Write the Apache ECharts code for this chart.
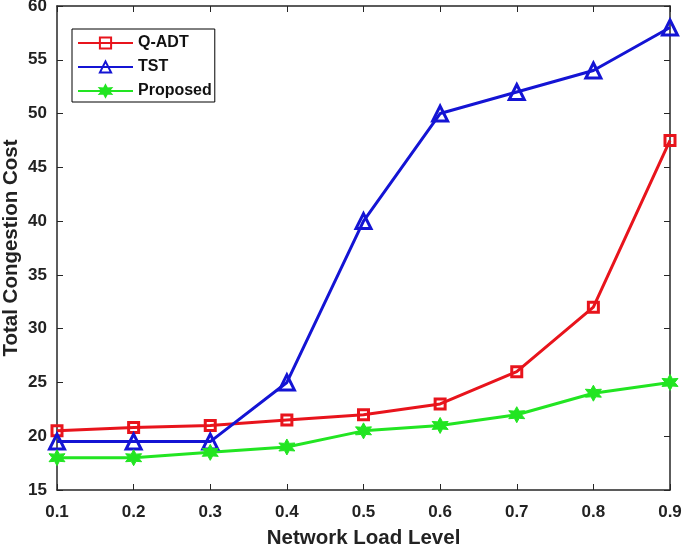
<!DOCTYPE html>
<html><head><meta charset="utf-8">
<script src="https://cdn.jsdelivr.net/npm/echarts@6/dist/echarts.min.js"></script>
<style>html,body{margin:0;padding:0;background:#fff}#c{width:685px;height:548px}</style>
</head><body><div id="c"></div>
<script>
const categories = ['0.1','0.2','0.3','0.4','0.5','0.6','0.7','0.8','0.9'];
const qadt = [20.5, 20.8, 21, 21.5, 22, 23, 26, 32, 47.5];
const tst = [19.5, 19.5, 19.5, 25, 40, 50, 52, 54, 58];
const proposed = [18, 18, 18.5, 19, 20.5, 21, 22, 24, 25];

const FONT = '"Liberation Sans", Arial, sans-serif';
const star = 'path://M0,-10 L2.6,-4.5 L8.66,-5 L5.2,0 L8.66,5 L2.6,4.5 L0,10 L-2.6,4.5 L-8.66,5 L-5.2,0 L-8.66,-5 L-2.6,-4.5 Z';
const RED = '#e8141c', BLUE = '#1414d4', GREEN = '#22e522';
const chart = echarts.init(document.getElementById('c'));
const axisLine = {show:true, lineStyle:{color:'#262626', width:1.5}};
chart.setOption({
  animation:false,
  backgroundColor:'#fff',
  grid:{left:57, right:15, top:6, bottom:58, outerBoundsMode:'none', containLabel:false},
  legend:{
    orient:'vertical', left:72, top:29, padding:[6,3,3,5],
    backgroundColor:'#fff', borderColor:'#000', borderWidth:1,
    itemWidth:55, itemHeight:14, itemGap:8,
    textStyle:{fontFamily:FONT, fontWeight:'bold', fontSize:16, color:'#111', padding:[0,0,0,0]},
    data:['Q-ADT','TST','Proposed']
  },
  xAxis:[{
    type:'category', data:categories, boundaryGap:false,
    name:'Network Load Level', nameLocation:'middle', nameGap:38, nameMoveOverlap:false,
    nameTextStyle:{fontFamily:FONT, fontWeight:'bold', fontSize:20.5, color:'#222'},
    axisLine, axisTick:{show:true, inside:true, length:6, lineStyle:{color:'#262626'}},
    axisLabel:{fontFamily:FONT, fontWeight:'bold', fontSize:17, color:'#222', margin:14},
    splitLine:{show:false}
  },{
    type:'category', data:categories, boundaryGap:false, position:'top',
    axisLine, axisTick:{show:true, inside:true, length:6, lineStyle:{color:'#262626'}},
    axisLabel:{show:false}, splitLine:{show:false}
  }],
  yAxis:[{
    type:'value', min:15, max:60, interval:5,
    name:'Total Congestion Cost', nameLocation:'middle', nameGap:35, nameMoveOverlap:false,
    nameTextStyle:{fontFamily:FONT, fontWeight:'bold', fontSize:20.5, color:'#222'},
    axisLine, axisTick:{show:true, inside:true, length:6, lineStyle:{color:'#262626'}},
    axisLabel:{fontFamily:FONT, fontWeight:'bold', fontSize:17, color:'#222', margin:10},
    splitLine:{show:false}
  },{
    type:'value', min:15, max:60, interval:5, position:'right',
    axisLine, axisTick:{show:true, inside:true, length:6, lineStyle:{color:'#262626'}},
    axisLabel:{show:false}, splitLine:{show:false}
  }],
  series:[
    {name:'Q-ADT', type:'line', data:qadt, color:RED,
     lineStyle:{width:3, color:RED}, symbol:'rect', symbolSize:10,
     itemStyle:{color:'rgba(255,255,255,0)', borderColor:RED, borderWidth:3}},
    {name:'TST', type:'line', data:tst, color:BLUE,
     lineStyle:{width:3, color:BLUE}, symbol:'triangle', symbolSize:15,
     itemStyle:{color:'rgba(255,255,255,0)', borderColor:BLUE, borderWidth:3}},
    {name:'Proposed', type:'line', data:proposed, color:GREEN,
     lineStyle:{width:3, color:GREEN}, symbol:star, symbolSize:16,
     itemStyle:{color:GREEN, borderColor:GREEN, borderWidth:1}}
  ]
});
</script></body></html>
